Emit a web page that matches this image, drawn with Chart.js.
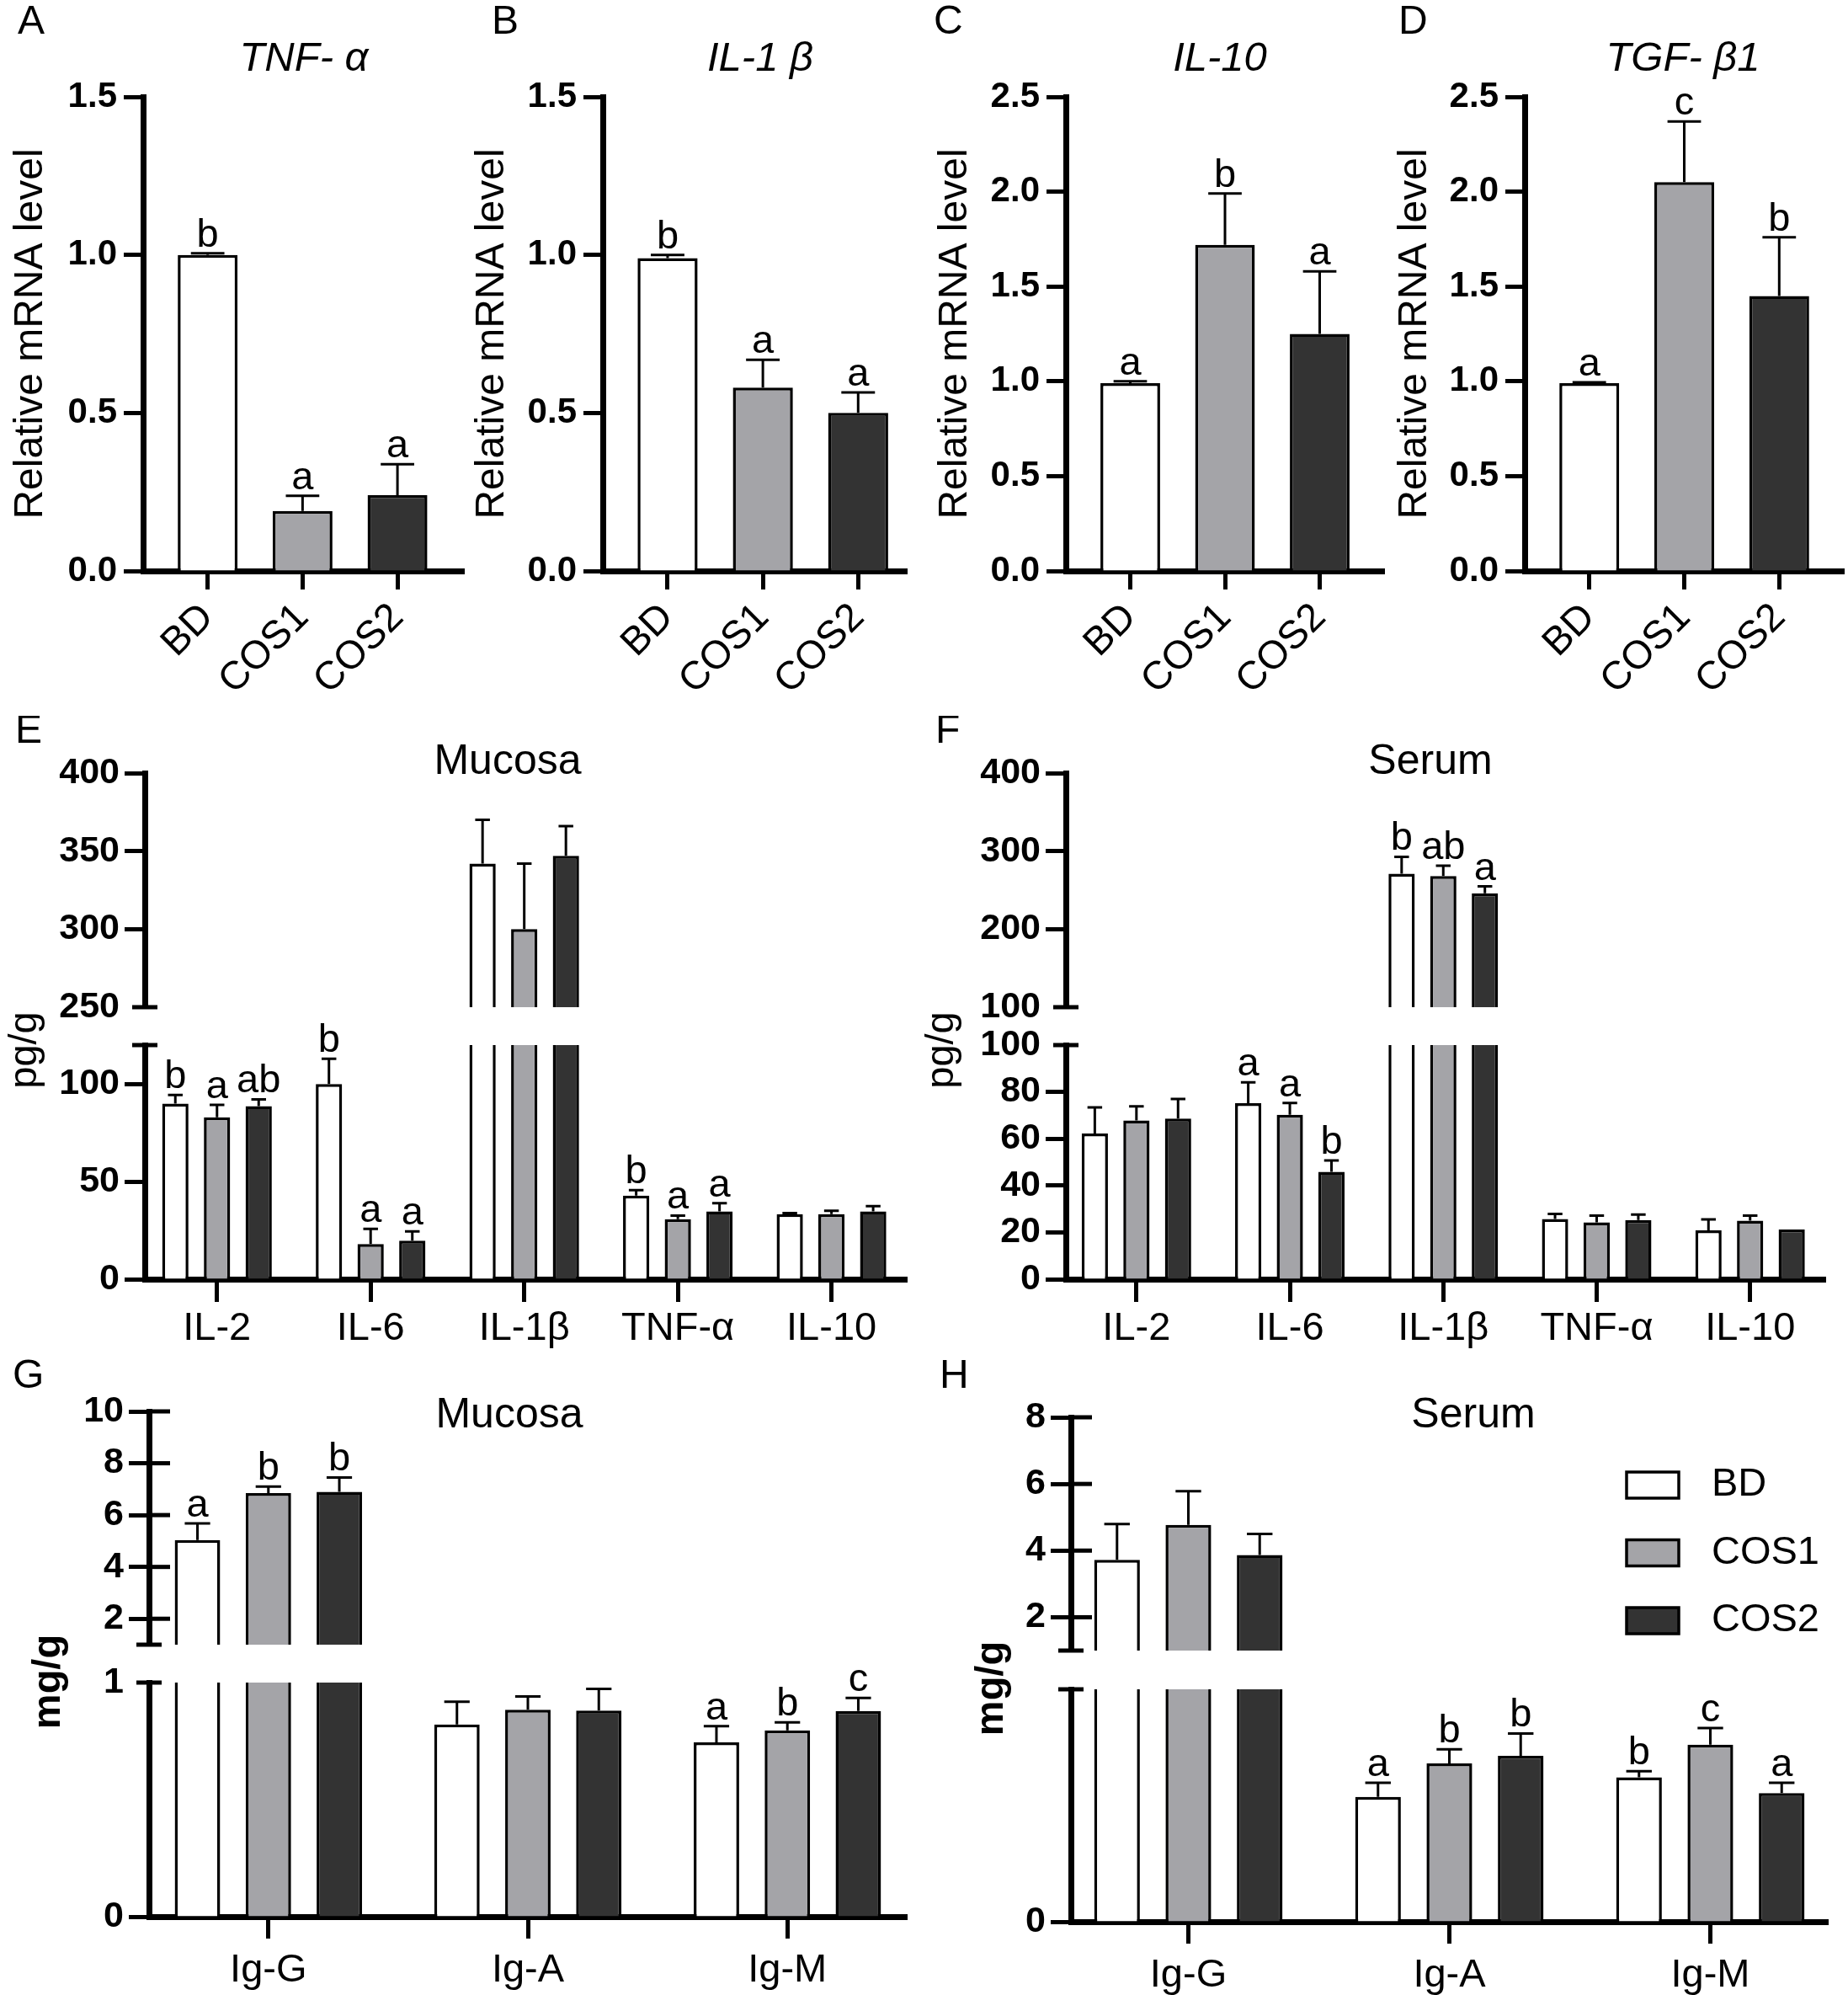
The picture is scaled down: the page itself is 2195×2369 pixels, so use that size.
<!DOCTYPE html>
<html>
<head>
<meta charset="utf-8">
<title>Cytokines and immunoglobulins</title>
<script src="https://cdn.jsdelivr.net/npm/chart.js@4.4.1/dist/chart.umd.min.js"></script>
<style>
  html, body { margin: 0; padding: 0; background: #fff; }
  #page { position: relative; width: 2195px; height: 2369px; overflow: hidden; background: #fff; }
  #page canvas { position: absolute; }
</style>
</head>
<body>
<div id="page"></div>
<script>
/* ---------- data ---------- */
const groups = ['BD', 'COS1', 'COS2'];
const groupColors = ['#ffffff', '#a4a4a8', '#333333'];

// A-D: relative mRNA level
const tnfAlpha = [1.00, 0.19, 0.24];
const tnfAlphaErr = [0.005, 0.048, 0.098];
const tnfAlphaSig = ['b', 'a', 'a'];

const il1b = [0.99, 0.58, 0.50];
const il1bErr = [0.01, 0.088, 0.065];
const il1bSig = ['b', 'a', 'a'];

const il10 = [0.99, 1.72, 1.25];
const il10Err = [0.01, 0.27, 0.33];
const il10Sig = ['a', 'b', 'a'];

const tgfb1 = [0.99, 2.05, 1.45];
const tgfb1Err = [0.005, 0.32, 0.31];
const tgfb1Sig = ['a', 'c', 'b'];

// E, F: cytokines (pg/g)
const cytokines = ['IL-2', 'IL-6', 'IL-1\u03b2', 'TNF-\u03b1', 'IL-10'];

const mucosaBD = [90, 100, 342, 42.8, 33.3];
const mucosaBDErr = [4.4, 13, 28, 2.9, 0.6];
const mucosaBDSig = ['b', 'b', '', 'b', ''];
const mucosaCOS1 = [83, 18, 300, 30.8, 33.3];
const mucosaCOS1Err = [6.3, 7.8, 42, 1.8, 1.8];
const mucosaCOS1Sig = ['a', 'a', '', 'a', ''];
const mucosaCOS2 = [88.7, 19.7, 347, 34.7, 34.7];
const mucosaCOS2Err = [3.5, 4.8, 19, 4.3, 2.7];
const mucosaCOS2Sig = ['ab', 'a', '', 'a', ''];

const serumBD = [62.2, 75.2, 271, 25.7, 20.9];
const serumBDErr = [11.2, 8.9, 21.7, 2.2, 4.6];
const serumBDSig = ['', 'a', 'b', '', ''];
const serumCOS1 = [67.8, 70.2, 268, 24.3, 25];
const serumCOS1Err = [6, 5.1, 13.4, 2.9, 2.2];
const serumCOS1Sig = ['', 'a', 'ab', '', ''];
const serumCOS2 = [68.6, 45.9, 246, 25.3, 21.2];
const serumCOS2Err = [8.4, 4.8, 8.8, 2.3, 0];
const serumCOS2Sig = ['', 'b', 'a', '', ''];

// G, H: immunoglobulins (mg/g)
const immunoglobulins = ['Ig-G', 'Ig-A', 'Ig-M'];

const igMucosaBD = [5.04, 0.821, 0.745];
const igMucosaBDErr = [0.64, 0.097, 0.069];
const igMucosaBDSig = ['a', '', 'a'];
const igMucosaCOS1 = [6.85, 0.884, 0.796];
const igMucosaCOS1Err = [0.25, 0.057, 0.034];
const igMucosaCOS1Sig = ['b', '', 'b'];
const igMucosaCOS2 = [6.9, 0.880, 0.879];
const igMucosaCOS2Err = [0.55, 0.093, 0.055];
const igMucosaCOS2Sig = ['b', '', 'c'];

const igSerumBD = [3.72, 0.537, 0.621];
const igSerumBDErr = [1.08, 0.061, 0.027];
const igSerumBDSig = ['', 'a', 'b'];
const igSerumCOS1 = [4.77, 0.681, 0.762];
const igSerumCOS1Err = [1.01, 0.061, 0.071];
const igSerumCOS1Sig = ['', 'b', 'c'];
const igSerumCOS2 = [3.87, 0.714, 0.553];
const igSerumCOS2Err = [0.63, 0.096, 0.045];
const igSerumCOS2Sig = ['', 'b', 'a'];

/* ---------- shared bits ---------- */
const FONT = '"Liberation Sans", Arial, Helvetica, sans-serif';
Chart.defaults.font.family = FONT;
Chart.defaults.color = '#000';
Chart.defaults.animation = false;

function addCanvas(box) {
  const c = document.createElement('canvas');
  c.width = box.w;
  c.height = box.h;
  c.style.left = box.x + 'px';
  c.style.top = box.y + 'px';
  c.style.width = box.w + 'px';
  c.style.height = box.h + 'px';
  document.getElementById('page').appendChild(c);
  return c;
}

/* error bars (upward only) and significance letters */
const errorBars = {
  id: 'errorBars',
  afterDatasetsDraw(chart) {
    const ctx = chart.ctx;
    const y = chart.scales.y;
    chart.data.datasets.forEach((ds, di) => {
      chart.getDatasetMeta(di).data.forEach((bar, i) => {
        const v = ds.data[i];
        if (v == null || v > y.max) return;
        const e = ds.errors[i] || 0;
        const top = y.getPixelForValue(v + e);
        ctx.save();
        ctx.strokeStyle = '#000';
        ctx.lineWidth = 3;
        if (e > 0) {
          const half = bar.width * 0.28;
          ctx.beginPath();
          ctx.moveTo(bar.x, bar.y);
          ctx.lineTo(bar.x, top);
          ctx.moveTo(bar.x - half, top);
          ctx.lineTo(bar.x + half, top);
          ctx.stroke();
        }
        if (ds.letters[i]) {
          ctx.fillStyle = '#000';
          ctx.font = '47px ' + FONT;
          ctx.textAlign = 'center';
          ctx.textBaseline = 'alphabetic';
          ctx.fillText(ds.letters[i], bar.x, top - 8);
        }
        ctx.restore();
      });
    });
  }
};

/* panel letters, titles, free axis titles (page coordinates) */
const panelText = {
  id: 'panelText',
  afterDraw(chart, args, opts) {
    const ctx = chart.ctx;
    (opts.items || []).forEach(t => {
      ctx.save();
      ctx.font = (t.style || 'normal') + ' ' + (t.weight || 'normal') + ' ' + t.size + 'px ' + FONT;
      ctx.fillStyle = '#000';
      ctx.textAlign = t.align || 'center';
      ctx.textBaseline = 'middle';
      ctx.translate(t.x - opts.ox, t.y - opts.oy);
      if (t.rot) ctx.rotate(t.rot);
      ctx.fillText(t.text, 0, 0);
      ctx.restore();
    });
  }
};

/* inward tick parts (G, H upper) and short centred ticks at the axis breaks */
const axisMarks = {
  id: 'axisMarks',
  afterDraw(chart, args, opts) {
    const ctx = chart.ctx, y = chart.scales.y, x0 = chart.chartArea.left;
    ctx.save();
    ctx.strokeStyle = '#000';
    ctx.lineWidth = 5;
    y.ticks.forEach(t => {
      const py = y.getPixelForValue(t.value);
      ctx.beginPath();
      if (t.value === opts.breakAt) {
        ctx.moveTo(x0 - 15, py);
        ctx.lineTo(x0 + 15, py);
      } else if (opts.inner) {
        ctx.moveTo(x0, py);
        ctx.lineTo(x0 + opts.inner, py);
      }
      ctx.stroke();
    });
    ctx.restore();
  }
};

/* boxed legend inside panel H */
const groupLegend = {
  id: 'groupLegend',
  afterDraw(chart, args, opts) {
    if (!opts.show) return;
    const ctx = chart.ctx;
    chart.data.datasets.forEach((ds, k) => {
      const bx = opts.x - opts.ox, by = opts.y + k * opts.step - opts.oy;
      ctx.save();
      ctx.fillStyle = ds.backgroundColor;
      ctx.strokeStyle = '#000';
      ctx.lineWidth = 3.5;
      ctx.fillRect(bx, by, opts.w, opts.h);
      ctx.strokeRect(bx, by, opts.w, opts.h);
      ctx.fillStyle = '#000';
      ctx.font = '47px ' + FONT;
      ctx.textAlign = 'left';
      ctx.textBaseline = 'middle';
      ctx.fillText(ds.label, opts.textX - opts.ox, by + opts.h / 2);
      ctx.restore();
    });
  }
};

function makePanel(p) {
  const b = p.box, a = p.area;
  const cv = addCanvas(b);
  const hide = p.hide || [];
  return new Chart(cv, {
    type: 'bar',
    data: { labels: p.cats.map((c, i) => i), datasets: p.datasets },
    plugins: [errorBars, panelText, axisMarks, groupLegend],
    options: {
      responsive: false,
      devicePixelRatio: 1,
      animation: false,
      events: [],
      layout: {
        padding: {
          left: 0,
          top: a.top - b.y,
          right: b.x + b.w - a.right,
          bottom: p.showX ? 0 : b.y + b.h - a.bottom
        }
      },
      datasets: {
        bar: {
          categoryPercentage: p.catPct,
          barPercentage: p.barPct,
          borderWidth: 3.5,
          borderColor: '#000',
          borderSkipped: 'start',
          clip: 0
        }
      },
      plugins: {
        legend: { display: false },
        tooltip: { enabled: false },
        panelText: { ox: b.x, oy: b.y, items: p.texts || [] },
        axisMarks: { inner: p.innerTick || 0, breakAt: p.breakAt },
        groupLegend: p.legend ? Object.assign({ show: true, ox: b.x, oy: b.y }, p.legend) : { show: false }
      },
      scales: {
        x: {
          type: 'linear',
          display: !!p.showX,
          min: p.xMin,
          max: p.xMax,
          offset: false,
          afterBuildTicks: s => { s.ticks = p.cats.map((c, i) => ({ value: i })); },
          afterFit: s => {
            if (p.showX) s.height = b.y + b.h - a.bottom;
            s.paddingLeft = 0;
            s.paddingRight = 0;
          },
          border: { display: true, width: 7, color: '#000' },
          grid: { display: true, offset: false, drawOnChartArea: false, drawTicks: true, tickLength: p.xTickLen, tickWidth: 5, tickColor: '#000' },
          ticks: {
            autoSkip: false,
            minRotation: p.rot,
            maxRotation: p.rot,
            padding: p.xPad,
            font: { size: p.xFont },
            color: '#000',
            callback: v => p.cats[v]
          }
        },
        y: {
          min: p.yMin,
          max: p.yMax,
          afterBuildTicks: s => { s.ticks = p.yTicks.map(v => ({ value: v })); },
          afterFit: s => {
            s.width = a.left - b.x;
            s.paddingTop = 0;
            s.paddingBottom = 0;
          },
          border: { display: true, width: 7, color: '#000' },
          grid: {
            display: true, drawOnChartArea: false, drawTicks: true, tickLength: p.yTickLen, tickWidth: 5,
            tickColor: c => (c.tick && c.tick.value === p.breakAt ? 'rgba(0,0,0,0)' : '#000')
          },
          ticks: {
            autoSkip: false,
            padding: p.yPad,
            font: { size: p.yFont, weight: 'bold' },
            color: '#000',
            callback: v => (hide.includes(v) ? '' : (p.yDigits ? v.toFixed(p.yDigits) : String(v)))
          },
          title: p.yTitle
            ? { display: true, text: p.yTitle, font: { size: 48 }, color: '#000', padding: { top: 8, bottom: 0 } }
            : { display: false }
        }
      }
    }
  });
}

/* ---------- A-D ---------- */
const mrnaPanels = [
  { letter: 'A', title: 'TNF- \u03b1', vals: tnfAlpha, err: tnfAlphaErr, sig: tnfAlphaSig, yMax: 1.5, yTicks: [0, 0.5, 1, 1.5],
    box: { x: 0, w: 560 }, left: 170, right: 551, xMax: 2.70, letterX: 21, titleX: 361 },
  { letter: 'B', title: 'IL-1 \u03b2', vals: il1b, err: il1bErr, sig: il1bSig, yMax: 1.5, yTicks: [0, 0.5, 1, 1.5],
    box: { x: 548, w: 542 }, left: 716, right: 1077, xMax: 2.51, letterX: 584, titleX: 903 },
  { letter: 'C', title: 'IL-10', vals: il10, err: il10Err, sig: il10Sig, yMax: 2.5, yTicks: [0, 0.5, 1, 1.5, 2, 2.5],
    box: { x: 1098, w: 558 }, left: 1266, right: 1644, xMax: 2.68, letterX: 1109, titleX: 1449 },
  { letter: 'D', title: 'TGF- \u03b21', vals: tgfb1, err: tgfb1Err, sig: tgfb1Sig, yMax: 2.5, yTicks: [0, 0.5, 1, 1.5, 2, 2.5],
    box: { x: 1644, w: 551 }, left: 1811, right: 2190, xMax: 2.68, letterX: 1661, titleX: 1999 }
];

mrnaPanels.forEach(m => {
  makePanel({
    box: { x: m.box.x, y: 0, w: m.box.w, h: 850 },
    area: { left: m.left, right: m.right, top: 115, bottom: 678 },
    cats: groups, xMin: -0.68, xMax: m.xMax, showX: true, rot: 45, xFont: 47, xTickLen: 22, xPad: 6,
    catPct: 1, barPct: 0.63,
    yMin: 0, yMax: m.yMax, yTicks: m.yTicks, yDigits: 1, yFont: 42, yTickLen: 23, yPad: 8,
    yTitle: 'Relative mRNA level',
    datasets: [{ label: m.title, data: m.vals, errors: m.err, letters: m.sig, backgroundColor: groupColors }],
    texts: [
      { text: m.letter, x: m.letterX, y: 27, size: 48, align: 'left' },
      { text: m.title, x: m.titleX, y: 70, size: 49, style: 'italic' }
    ]
  });
});

/* ---------- E-H (broken y axes) ---------- */
function brokenPanel(c) {
  [c.upper, c.lower].forEach((part, n) => {
    const isUpper = n === 0;
    makePanel({
      box: part.box,
      area: { left: c.left, right: c.right, top: part.top, bottom: part.bottom },
      cats: c.cats, xMin: c.xMin, xMax: c.xMax, showX: !isUpper, rot: 0, xFont: 47, xTickLen: c.xTickLen, xPad: c.xPad,
      catPct: c.catPct, barPct: c.barPct,
      yMin: part.min, yMax: part.max, yTicks: part.ticks, hide: part.hide, yFont: 43, yTickLen: 24, yPad: 6,
      breakAt: isUpper ? part.min : part.max,
      datasets: groups.map((g, k) => ({
        label: g,
        data: c.values[k].map(v => (isUpper && v < part.min ? null : v)),
        errors: c.errors[k],
        letters: c.letters[k],
        backgroundColor: groupColors[k]
      })),
      texts: part.texts, innerTick: part.innerTick, legend: part.legend
    });
  });
}

brokenPanel({
  cats: cytokines, left: 172, right: 1077, xMin: -0.47, xMax: 4.49, xTickLen: 27, xPad: 4, catPct: 0.814, barPct: 0.63,
  values: [mucosaBD, mucosaCOS1, mucosaCOS2],
  errors: [mucosaBDErr, mucosaCOS1Err, mucosaCOS2Err],
  letters: [mucosaBDSig, mucosaCOS1Sig, mucosaCOS2Sig],
  upper: { box: { x: 0, y: 850, w: 1090, h: 360 }, top: 918, bottom: 1196, min: 250, max: 400, ticks: [250, 300, 350, 400],
    texts: [{ text: 'E', x: 18, y: 869, size: 48, align: 'left' }, { text: 'Mucosa', x: 603, y: 905, size: 50 }] },
  lower: { box: { x: 0, y: 1190, w: 1090, h: 420 }, top: 1241, bottom: 1519, min: 0, max: 120, ticks: [0, 50, 100, 120], hide: [120],
    texts: [{ text: 'pg/g', x: 30, y: 1247, size: 47, rot: -Math.PI / 2 }] }
});

brokenPanel({
  cats: cytokines, left: 1266, right: 2168, xMin: -0.46, xMax: 4.49, xTickLen: 27, xPad: 4, catPct: 0.814, barPct: 0.63,
  values: [serumBD, serumCOS1, serumCOS2],
  errors: [serumBDErr, serumCOS1Err, serumCOS2Err],
  letters: [serumBDSig, serumCOS1Sig, serumCOS2Sig],
  upper: { box: { x: 1090, y: 850, w: 1105, h: 360 }, top: 918, bottom: 1196, min: 100, max: 400, ticks: [100, 200, 300, 400],
    texts: [{ text: 'F', x: 1111, y: 869, size: 48, align: 'left' }, { text: 'Serum', x: 1699, y: 905, size: 50 }] },
  lower: { box: { x: 1090, y: 1190, w: 1105, h: 420 }, top: 1241, bottom: 1519, min: 0, max: 100, ticks: [0, 20, 40, 60, 80, 100],
    texts: [{ text: 'pg/g', x: 1119, y: 1247, size: 47, rot: -Math.PI / 2 }] }
});

brokenPanel({
  cats: immunoglobulins, left: 177, right: 1077, xMin: -0.46, xMax: 2.46, xTickLen: 26, xPad: 10, catPct: 0.82, barPct: 0.64,
  values: [igMucosaBD, igMucosaCOS1, igMucosaCOS2],
  errors: [igMucosaBDErr, igMucosaCOS1Err, igMucosaCOS2Err],
  letters: [igMucosaBDSig, igMucosaCOS1Sig, igMucosaCOS2Sig],
  upper: { box: { x: 0, y: 1600, w: 1090, h: 365 }, top: 1676, bottom: 1953, min: 1, max: 10, ticks: [1, 2, 4, 6, 8, 10], hide: [1], innerTick: 25,
    texts: [{ text: 'G', x: 15, y: 1635, size: 48, align: 'left' }, { text: 'Mucosa', x: 605, y: 1681, size: 50 }] },
  lower: { box: { x: 0, y: 1930, w: 1090, h: 439 }, top: 1998, bottom: 2276, min: 0, max: 1, ticks: [0, 1],
    texts: [{ text: 'mg/g', x: 58, y: 1997, size: 47, weight: 'bold', rot: -Math.PI / 2 }] }
});

brokenPanel({
  cats: immunoglobulins, left: 1272, right: 2171, xMin: -0.45, xMax: 2.45, xTickLen: 26, xPad: 10, catPct: 0.82, barPct: 0.64,
  values: [igSerumBD, igSerumCOS1, igSerumCOS2],
  errors: [igSerumBDErr, igSerumCOS1Err, igSerumCOS2Err],
  letters: [igSerumBDSig, igSerumCOS1Sig, igSerumCOS2Sig],
  upper: { box: { x: 1090, y: 1600, w: 1105, h: 370 }, top: 1683, bottom: 1960, min: 1, max: 8, ticks: [1, 2, 4, 6, 8], hide: [1], innerTick: 25,
    texts: [{ text: 'H', x: 1116, y: 1635, size: 48, align: 'left' }, { text: 'Serum', x: 1750, y: 1681, size: 50 }],
    legend: { x: 1932, y: 1748, w: 62, h: 31, step: 80.5, textX: 2033 } },
  lower: { box: { x: 1090, y: 1930, w: 1105, h: 439 }, top: 2006, bottom: 2282, min: 0, max: 1, ticks: [0, 1], hide: [1],
    texts: [{ text: 'mg/g', x: 1178, y: 2005, size: 47, weight: 'bold', rot: -Math.PI / 2 }] }
});
</script>
</body>
</html>
